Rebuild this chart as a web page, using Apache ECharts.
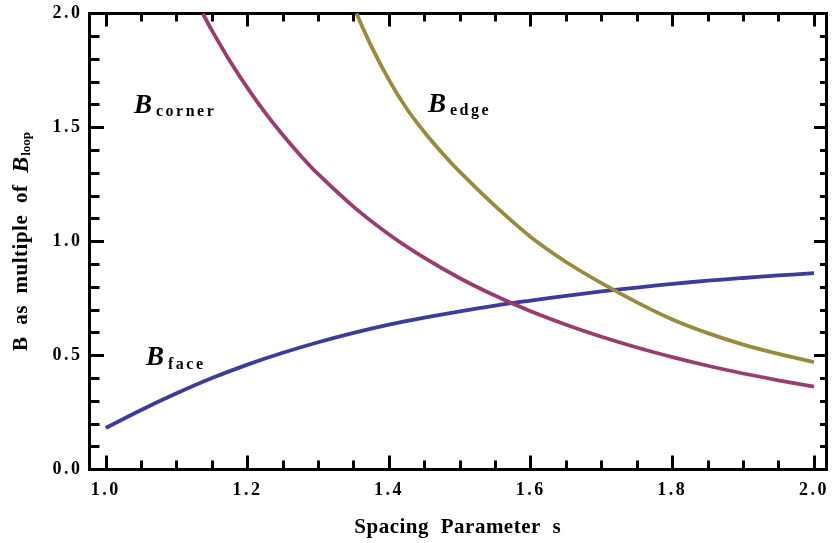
<!DOCTYPE html>
<html>
<head>
<meta charset="utf-8">
<script src="https://cdn.jsdelivr.net/npm/echarts@6/dist/echarts.min.js"></script>
<style>
html,body{margin:0;padding:0;background:#fff;}
#chart{width:832px;height:543px;}
</style>
</head>
<body>
<div id="chart"></div>
<script>
// ---- data ----
const sFace = [1.00,1.05,1.10,1.15,1.20,1.25,1.30,1.35,1.40,1.45,1.50,1.55,1.60,1.65,1.70,1.75,1.80,1.85,1.90,1.95,2.00];
const bFace = [0.182,0.261,0.334,0.401,0.460,0.512,0.558,0.599,0.635,0.666,0.694,0.719,0.741,0.762,0.781,0.798,0.814,0.828,0.840,0.851,0.861];

const sCorner = [1.137,1.15,1.175,1.20,1.225,1.25,1.275,1.30,1.35,1.40,1.45,1.50,1.55,1.60,1.65,1.70,1.75,1.80,1.85,1.90,1.95,2.00];
const bCorner = [2.00,1.925,1.793,1.674,1.565,1.467,1.377,1.295,1.152,1.031,0.928,0.839,0.762,0.694,0.635,0.582,0.535,0.493,0.455,0.421,0.391,0.363];

const sEdge = [1.354,1.375,1.40,1.425,1.45,1.475,1.50,1.55,1.60,1.65,1.70,1.75,1.80,1.85,1.90,1.95,2.00];
const bEdge = [2.00,1.856,1.708,1.582,1.479,1.388,1.305,1.155,1.020,0.910,0.817,0.733,0.658,0.598,0.548,0.507,0.471];

const xMajorTicks = [1.0,1.2,1.4,1.6,1.8,2.0];
const xMinorTicks = [1.05,1.1,1.15,1.25,1.3,1.35,1.45,1.5,1.55,1.65,1.7,1.75,1.85,1.9,1.95];
const seriesNames = ['face','corner','edge'];
const xTitle = 'Spacing Parameter s';

// Mathematica-style text spacing (depends on the font size used below)
(function(){
  try {
    const P = CanvasRenderingContext2D.prototype;
    if (!('letterSpacing' in P)) return;
    function sp(font){
      const m = /(\d+(?:\.\d+)?)px/.exec(font || '');
      const sz = m ? parseFloat(m[1]) : 12;
      if (sz === 21) return ['0.5px','6px'];
      if (sz === 18 || sz === 16) return ['2.5px','0px'];
      return ['0px','0px'];
    }
    ['fillText','strokeText','measureText'].forEach(function(fn){
      const orig = P[fn];
      P[fn] = function(){
        const s = sp(this.font);
        this.letterSpacing = s[0];
        if ('wordSpacing' in this) this.wordSpacing = s[1];
        return orig.apply(this, arguments);
      };
    });
  } catch(e) {}
})();

const FONT = '"Liberation Serif", "Times New Roman", serif';
const X_MIN = 0.977, X_MAX = 2.017;
const black = '#000';
const lineStyle3 = {color: black, width: 3, cap: 'square'};
const tickStyle = {color: black, width: 3};

function pairs(xs, ys){ return xs.map((x,i)=>[x, ys[i]]); }

const chart = echarts.init(document.getElementById('chart'), null, {renderer:'canvas'});

function xAx(pos, len, vals, withLabels){
  const a = {
    type:'value', position:pos, min:X_MIN, max:X_MAX,
    axisLine:{show:true, onZero:false, lineStyle:lineStyle3},
    axisTick:{show:true, inside:true, length:len, customValues:vals, lineStyle:tickStyle},
    axisLabel:{show:false},
    splitLine:{show:false}
  };
  if (withLabels) {
    a.axisLabel = {show:true, customValues:vals, formatter:v=>Number(v).toFixed(1), margin:11,
      fontFamily:FONT, fontWeight:'bold', fontSize:18, color:black};
    a.name = xTitle;
    a.nameLocation = 'middle';
    a.nameGap = 47;
    a.nameTextStyle = {fontFamily:FONT, fontWeight:'bold', fontSize:21, color:black};
  }
  return a;
}

function yAx(pos, len, mlen, withLabels){
  const a = {
    type:'value', position:pos, min:0, max:2, interval:0.5,
    axisLine:{show:true, onZero:false, lineStyle:lineStyle3},
    axisTick:{show:true, inside:true, length:len, lineStyle:tickStyle},
    minorTick:{show:true, splitNumber:5, length:mlen, lineStyle:tickStyle},
    axisLabel:{show:false},
    splitLine:{show:false}, minorSplitLine:{show:false}
  };
  if (withLabels) {
    a.axisLabel = {show:true, formatter:v=>Number(v).toFixed(1), margin:7,
      fontFamily:FONT, fontWeight:'bold', fontSize:18, color:black};
    a.name = '{n|B as multiple of }{i|B}{s|loop}';
    a.nameLocation = 'middle';
    a.nameRotate = 90;
    a.nameGap = 56;
    a.nameTextStyle = {
      rich:{
        n:{fontFamily:FONT, fontWeight:'bold', fontSize:21, color:black},
        i:{fontFamily:FONT, fontWeight:'bold', fontStyle:'italic', fontSize:24, color:black},
        s:{fontFamily:FONT, fontWeight:'bold', fontSize:13, color:black, padding:[11,0,0,1]}
      }
    };
  }
  return a;
}

function lbl(text, x, y, sub){
  return [
    {type:'text', x:x, y:y, z:10, style:{text:'B', font:'italic bold 27px ' + FONT, fill:black, verticalAlign:'middle'}},
    {type:'text', x:sub[0], y:sub[1], z:10, style:{text:text, font:'bold 16px ' + FONT, fill:black, verticalAlign:'middle'}}
  ];
}

const option = {
  animation:false,
  backgroundColor:'#fff',
  grid:{left:89.5, right:2, top:13.5, bottom:70, containLabel:false},
  xAxis:[ xAx('bottom',14,xMajorTicks,true), xAx('bottom',9,xMinorTicks,false), xAx('top',13,xMajorTicks,false), xAx('top',8,xMinorTicks,false) ],
  yAxis:[ yAx('left',14.5,10,true), yAx('right',12,6,false) ],
  series:[
    {name:seriesNames[0], type:'line', data:pairs(sFace,bFace), showSymbol:false, smooth:0.35, clip:true,
     lineStyle:{color:'#3d3d99', width:3.8}, itemStyle:{color:'#3d3d99'}},
    {name:seriesNames[1], type:'line', data:pairs(sCorner,bCorner), showSymbol:false, smooth:0.35, clip:true,
     lineStyle:{color:'#993d71', width:3.8}, itemStyle:{color:'#993d71'}},
    {name:seriesNames[2], type:'line', data:pairs(sEdge,bEdge), showSymbol:false, smooth:0.35, clip:true,
     lineStyle:{color:'#998b3d', width:3.8}, itemStyle:{color:'#998b3d'}}
  ],
  graphic: [].concat(
    lbl(seriesNames[1], 134, 106.5, [156, 112]),
    lbl(seriesNames[2], 428, 105, [450, 111]),
    lbl(seriesNames[0], 146, 358.5, [168, 364.5])
  )
};
chart.setOption(option);
</script>
</body>
</html>
